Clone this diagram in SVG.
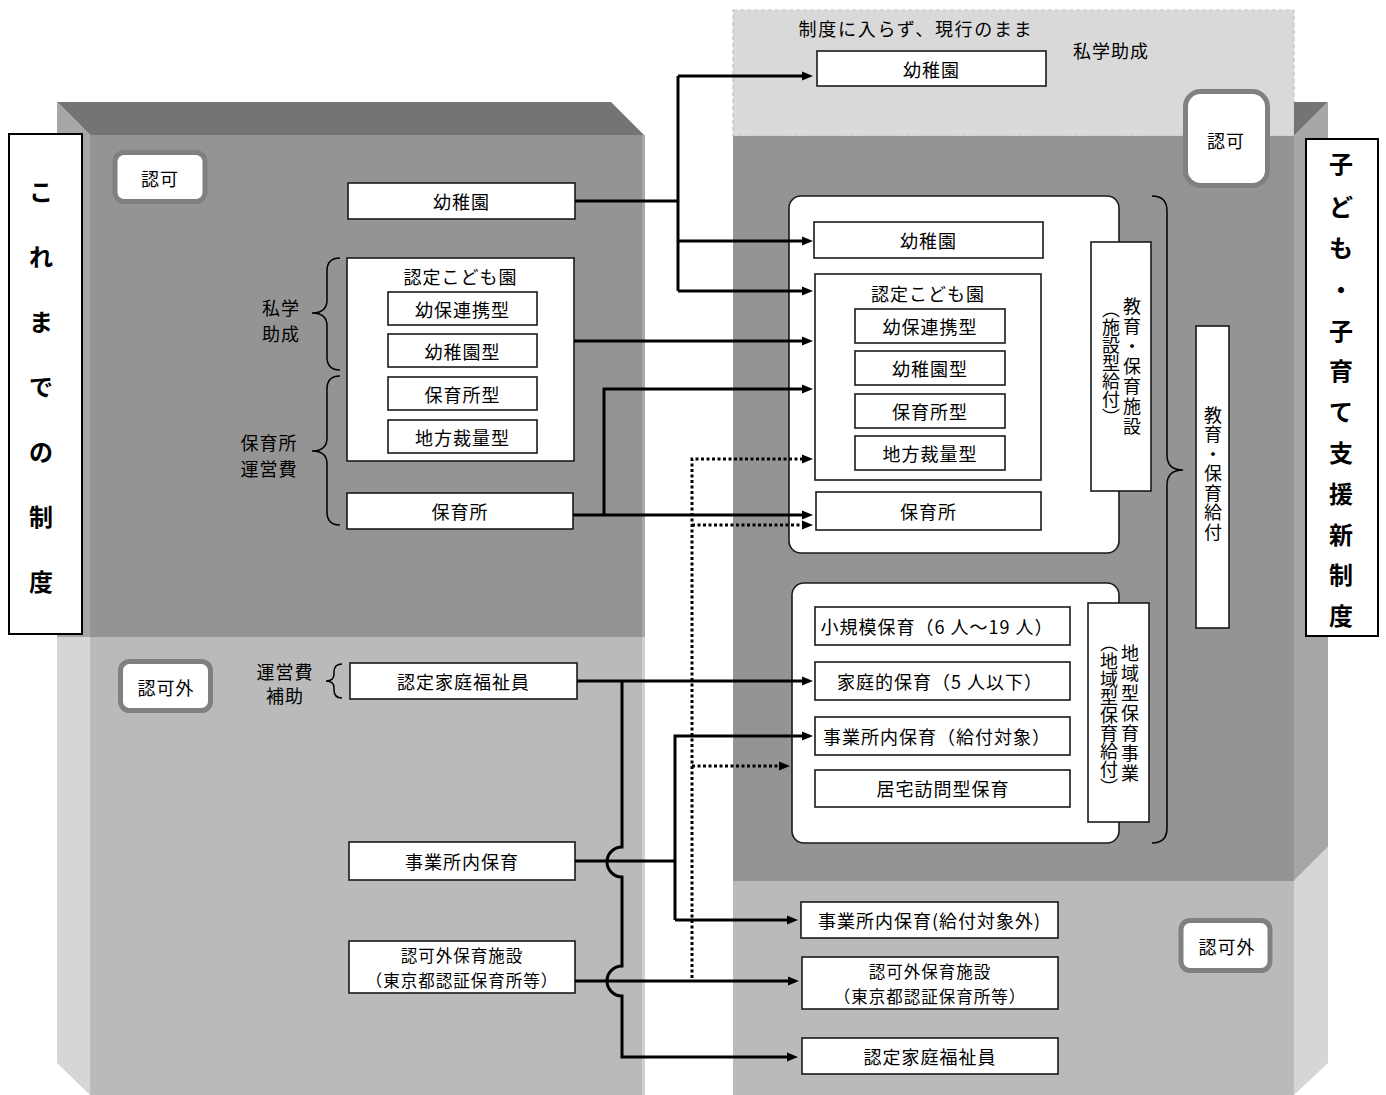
<svg xmlns="http://www.w3.org/2000/svg" width="1386" height="1095" viewBox="0 0 1386 1095">
<style>
text{font-family:"Noto Sans CJK JP","Noto Sans",sans-serif;fill:#000;}
.t{font-size:18px;text-anchor:middle;dominant-baseline:central;letter-spacing:1px;}
.t2{font-size:16.5px;text-anchor:middle;dominant-baseline:central;letter-spacing:1px;}
.ttl{font-size:24px;font-weight:bold;text-anchor:middle;dominant-baseline:central;}
.v{font-size:18px;writing-mode:vertical-rl;}
.box{fill:#fff;stroke:#1a1a1a;stroke-width:1.6;}
.cont{fill:#fff;stroke:#1a1a1a;stroke-width:1.6;}
.badge{fill:#fff;stroke:#808080;stroke-width:5;}
.brace{fill:none;stroke:#000;stroke-width:1.5;}
.ln{fill:none;stroke:#000;stroke-width:3;}
.dot{fill:none;stroke:#000;stroke-width:3;stroke-dasharray:3 2.5;}
</style>
<defs>
<marker id="ah" markerUnits="userSpaceOnUse" markerWidth="12" markerHeight="10" refX="5" refY="5" orient="auto">
<path d="M0,0.5 L11,5 L0,9.5 z" fill="#000"/>
</marker>
</defs>

<g id="background">
<polygon points="57,102 611,102 644,135 90,135" fill="#747474"/>
<polygon points="57,102 90,135 90,637 57,637" fill="#a6a6a6"/>
<polygon points="57,637 90,637 90,1095 57,1063" fill="#d6d6d6"/>
<rect x="90" y="135" width="554" height="502" fill="#949494"/>
<rect x="90" y="637" width="554" height="458" fill="#bababa"/>
<rect x="642" y="135" width="3" height="502" fill="#a8a8a8"/>
<rect x="642" y="637" width="3" height="458" fill="#d0d0d0"/>
<rect x="733" y="10" width="561" height="126" fill="#d9d9d9" stroke="#c2c2c2" stroke-width="1.2" stroke-dasharray="4 3"/>
<polygon points="1294,102 1328,102 1294,136" fill="#747474"/>
<polygon points="1294,136 1328,102 1328,847 1294,881" fill="#a6a6a6"/>
<polygon points="1294,881 1328,847 1328,1063 1294,1095" fill="#d6d6d6"/>
<rect x="733" y="136" width="561" height="745" fill="#949494"/>
<rect x="733" y="881" width="561" height="214" fill="#bababa"/>
</g>

<g id="title-left">
<rect x="9" y="134" width="73" height="500" fill="#fff" stroke="#000" stroke-width="2"/>
<text class="ttl"><tspan x="41" y="190">こ</tspan><tspan x="41" y="255">れ</tspan><tspan x="41" y="320">ま</tspan><tspan x="41" y="385">で</tspan><tspan x="41" y="450">の</tspan><tspan x="41" y="515">制</tspan><tspan x="41" y="580">度</tspan></text>
</g>
<g id="title-right">
<rect x="1306" y="139" width="72" height="497" fill="#fff" stroke="#000" stroke-width="2"/>
<text class="ttl"><tspan x="1341" y="162">子</tspan><tspan x="1341" y="205">ど</tspan><tspan x="1341" y="246">も</tspan><tspan x="1341" y="288">・</tspan><tspan x="1341" y="329">子</tspan><tspan x="1341" y="369">育</tspan><tspan x="1341" y="410">て</tspan><tspan x="1341" y="451">支</tspan><tspan x="1341" y="492">援</tspan><tspan x="1341" y="533">新</tspan><tspan x="1341" y="573">制</tspan><tspan x="1341" y="614">度</tspan></text>
</g>

<g id="badge-ninka-left"><rect class="badge" x="115" y="152.5" width="90" height="49" rx="9"/><text class="t" x="160" y="178">認可</text></g>
<g id="badge-ninkagai-left"><rect class="badge" x="120.5" y="661.5" width="90" height="49" rx="9"/><text class="t" x="166" y="687">認可外</text></g>
<g id="badge-ninka-right"><rect class="badge" x="1185.5" y="91.5" width="82" height="94" rx="15"/><text class="t" x="1226" y="140">認可</text></g>
<g id="badge-ninkagai-right"><rect class="badge" x="1181" y="920.5" width="89" height="50" rx="9"/><text class="t" x="1227" y="946">認可外</text></g>

<g id="labels">
<text class="t" x="916" y="28" style="letter-spacing:1.7px">制度に入らず、現行のまま</text>
<text class="t" x="1111" y="50">私学助成</text>
<text class="t" x="281" y="307">私学</text>
<text class="t" x="281" y="333">助成</text>
<text class="t" x="269" y="442">保育所</text>
<text class="t" x="269" y="468">運営費</text>
<text class="t" x="285" y="671">運営費</text>
<text class="t" x="285" y="695">補助</text>
</g>

<g id="braces">
<path class="brace" d="M340,258 Q327,258 327,271 V300 Q327,313 312,313 Q327,313 327,326 V357 Q327,370 340,370"/>
<path class="brace" d="M340,376 Q327,376 327,389 V438 Q327,451 312,451 Q327,451 327,464 V512 Q327,525 340,525"/>
<path class="brace" d="M342,664 Q334,664 334,672 V674 Q334,681 326,681 Q334,681 334,688 V690 Q334,698 342,698"/>
<path class="brace" d="M1152,196 Q1167,196 1167,211 V455 Q1167,470 1183,470 Q1167,470 1167,485 V828 Q1167,843 1152,843"/>
</g>

<g id="old-yochien"><rect class="box" x="348" y="183" width="227" height="36"/><text class="t" x="461.5" y="201">幼稚園</text></g>
<g id="old-kodomoen">
<rect class="box" x="347" y="258" width="227" height="203"/>
<text class="t" x="460.5" y="276">認定こども園</text>
<rect class="box" x="388" y="292" width="149" height="33"/><text class="t" x="462.5" y="308.5">幼保連携型</text>
<rect class="box" x="388" y="334" width="149" height="33"/><text class="t" x="462.5" y="350.5">幼稚園型</text>
<rect class="box" x="388" y="377" width="149" height="33"/><text class="t" x="462.5" y="393.5">保育所型</text>
<rect class="box" x="388" y="420" width="149" height="33"/><text class="t" x="462.5" y="436.5">地方裁量型</text>
</g>
<g id="old-hoikusho"><rect class="box" x="347" y="493" width="226" height="36"/><text class="t" x="460" y="511">保育所</text></g>
<g id="old-katei"><rect class="box" x="350" y="663" width="227" height="36"/><text class="t" x="463.5" y="681">認定家庭福祉員</text></g>
<g id="old-jigyosho"><rect class="box" x="349" y="842" width="226" height="38"/><text class="t" x="462" y="861">事業所内保育</text></g>
<g id="old-ninkagai"><rect class="box" x="349" y="941" width="226" height="52"/><text class="t2" x="462" y="955">認可外保育施設</text><text class="t2" x="462" y="980">（東京都認証保育所等）</text></g>

<g id="new-yochien-top"><rect class="box" x="817" y="51" width="229" height="35"/><text class="t" x="931.5" y="68.5">幼稚園</text></g>
<g id="new-shisetsu"><rect class="cont" x="789" y="196" width="330" height="357" rx="12"/></g>
<g id="new-yochien"><rect class="box" x="814" y="222" width="229" height="36"/><text class="t" x="928.5" y="240">幼稚園</text></g>
<g id="new-kodomoen">
<rect class="box" x="815" y="274" width="226" height="206"/>
<text class="t" x="928" y="293">認定こども園</text>
<rect class="box" x="855" y="309" width="150" height="34"/><text class="t" x="930" y="326">幼保連携型</text>
<rect class="box" x="855" y="351" width="150" height="34"/><text class="t" x="930" y="368">幼稚園型</text>
<rect class="box" x="855" y="394" width="150" height="34"/><text class="t" x="930" y="411">保育所型</text>
<rect class="box" x="855" y="436" width="150" height="34"/><text class="t" x="930" y="453">地方裁量型</text>
</g>
<g id="new-hoikusho"><rect class="box" x="816" y="492" width="225" height="38"/><text class="t" x="928.5" y="511">保育所</text></g>
<g id="label-shisetsu">
<rect class="box" x="1091" y="242" width="60" height="249"/>
<text class="v" x="1132" y="297" style="letter-spacing:2px">教育・保育施設</text>
<text class="v" x="1111" y="300">（施設型給付）</text>
</g>
<g id="new-chiiki"><rect class="cont" x="792" y="583" width="327" height="260" rx="12"/></g>
<g id="new-shokibo"><rect class="box" x="815" y="607" width="255" height="38"/><text class="t" x="937" y="626">小規模保育（6 人～19 人）</text></g>
<g id="new-katei"><rect class="box" x="815" y="662" width="255" height="38"/><text class="t" x="940" y="681">家庭的保育（5 人以下）</text></g>
<g id="new-jigyosho"><rect class="box" x="815" y="717" width="255" height="38"/><text class="t" x="937" y="736">事業所内保育（給付対象）</text></g>
<g id="new-kyotaku"><rect class="box" x="815" y="770" width="255" height="37"/><text class="t" x="943" y="788">居宅訪問型保育</text></g>
<g id="label-chiiki">
<rect class="box" x="1088" y="603" width="61" height="219"/>
<text class="v" x="1130" y="644" style="letter-spacing:2px">地域型保育事業</text>
<text class="v" x="1109" y="634">（地域型保育給付）</text>
</g>
<g id="label-kyufu">
<rect class="box" x="1196" y="326" width="33" height="302"/>
<text class="v" x="1213" y="406" style="letter-spacing:1.5px">教育・保育給付</text>
</g>
<g id="new-jigyosho-gai"><rect class="box" x="801" y="902" width="257" height="36"/><text class="t" x="929.5" y="920">事業所内保育(給付対象外)</text></g>
<g id="new-ninkagai"><rect class="box" x="802" y="957" width="256" height="52"/><text class="t2" x="930" y="971">認可外保育施設</text><text class="t2" x="930" y="996">（東京都認証保育所等）</text></g>
<g id="new-katei-fukushi"><rect class="box" x="802" y="1038" width="256" height="36"/><text class="t" x="930" y="1056">認定家庭福祉員</text></g>

<g id="connectors">
<path class="ln" d="M575,201 H678"/>
<path class="ln" d="M678,76 V291"/>
<path class="ln" d="M678,76 H807" marker-end="url(#ah)"/>
<path class="ln" d="M678,241 H807" marker-end="url(#ah)"/>
<path class="ln" d="M678,291 H807" marker-end="url(#ah)"/>
<path class="ln" d="M574,341 H807" marker-end="url(#ah)"/>
<path class="ln" d="M573,515 H807" marker-end="url(#ah)"/>
<path class="ln" d="M604,515 V389 H807" marker-end="url(#ah)"/>
<path class="dot" d="M692,978 V459 H807" marker-end="url(#ah)"/>
<path class="dot" d="M692,525 H807" marker-end="url(#ah)"/>
<path class="dot" d="M692,766 H784" marker-end="url(#ah)"/>
<path class="ln" d="M577,681 H807" marker-end="url(#ah)"/>
<path class="ln" d="M622,681 V847 A15,15 0 0 0 622,877 V966 A15,15 0 0 0 622,996 V1057 H792" marker-end="url(#ah)"/>
<path class="ln" d="M575,861 H675"/>
<path class="ln" d="M675,920 V736 H807" marker-end="url(#ah)"/>
<path class="ln" d="M675,920 H792" marker-end="url(#ah)"/>
<path class="ln" d="M575,981 H793" marker-end="url(#ah)"/>
</g>
</svg>
